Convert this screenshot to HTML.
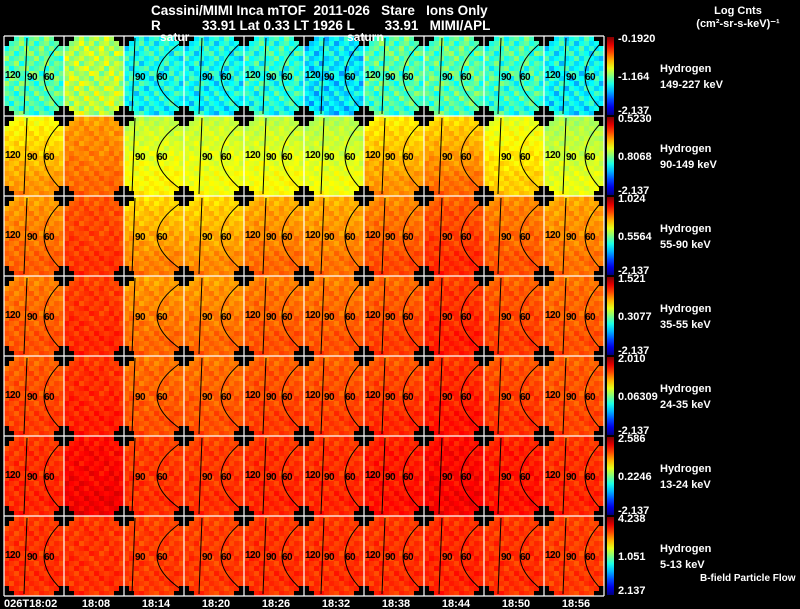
<!DOCTYPE html>
<html><head><meta charset="utf-8"><style>
html,body{margin:0;padding:0;background:#000;width:800px;height:609px;overflow:hidden}
svg{display:block}
text{font-family:"Liberation Sans",sans-serif;font-weight:bold}
.pre{white-space:pre}
</style></head><body>
<svg id="chart" width="800" height="609" viewBox="0 0 800 609" xmlns="http://www.w3.org/2000/svg">
<g id="panels"></g>
<g id="ticks" fill="#fff" font-size="11"></g>
<g fill="#fff" font-size="13.5">
<text class="pre" x="151" y="15">Cassini/MIMI Inca mTOF  2011-026   Stare   Ions Only</text>
<text class="pre" x="151" y="30">R           33.91 Lat 0.33 LT 1926 L        33.91   MIMI/APL</text>
<text x="738" y="14" text-anchor="middle" font-size="11">Log Cnts</text>
<text x="738" y="27" text-anchor="middle" font-size="11">(cm²-sr-s-keV)⁻¹</text>
<text x="160" y="41" font-size="12">satur</text>
<text x="347" y="41" font-size="12">saturn</text>
</g>
</svg>
<script>
// ---- data ----
const timeLabels = ["026T18:02","18:08","18:14","18:20","18:26","18:32","18:38","18:44","18:50","18:56"];
const energyLabels = ["149-227 keV","90-149 keV","55-90 keV","35-55 keV","24-35 keV","13-24 keV","5-13 keV"];
const cbTop = ["-0.1920","0.5230","1.024","1.521","2.010","2.586","4.238"];
const cbMid = ["-1.164","0.8068","0.5564","0.3077","0.06309","0.2246","1.051"];
const cbBot = ["-2.137","-2.137","-2.137","-2.137","-2.137","-2.137","2.137"];
// normalized colour level (0..1, jet) at top and bottom of each image, per panel per time column
const levelTop = [
 [0.47,0.54,0.40,0.39,0.42,0.36,0.46,0.46,0.44,0.39],
 [0.62,0.72,0.56,0.57,0.56,0.55,0.64,0.66,0.60,0.54],
 [0.72,0.79,0.66,0.66,0.70,0.70,0.74,0.78,0.74,0.71],
 [0.75,0.81,0.72,0.72,0.75,0.75,0.77,0.81,0.78,0.76],
 [0.78,0.82,0.76,0.76,0.78,0.78,0.79,0.82,0.79,0.78],
 [0.82,0.86,0.81,0.81,0.82,0.82,0.84,0.86,0.84,0.82],
 [0.82,0.82,0.81,0.81,0.82,0.82,0.82,0.83,0.82,0.81]
];
const levelBot = [
 [0.44,0.56,0.38,0.37,0.40,0.34,0.44,0.45,0.42,0.36],
 [0.74,0.78,0.64,0.62,0.63,0.62,0.74,0.78,0.68,0.61],
 [0.79,0.83,0.76,0.75,0.78,0.77,0.81,0.84,0.80,0.77],
 [0.80,0.84,0.78,0.78,0.80,0.80,0.82,0.85,0.82,0.80],
 [0.82,0.85,0.80,0.80,0.82,0.82,0.84,0.86,0.83,0.81],
 [0.84,0.89,0.83,0.83,0.84,0.84,0.86,0.88,0.86,0.84],
 [0.83,0.83,0.82,0.82,0.83,0.83,0.83,0.84,0.83,0.82]
];
// pitch-angle contour offsets per column (px within image)
const line90 = [22,-99,10,17,21,19,20,17,16,21];
const arc60 = [40,-99,33,37,38,41,39,37,36,41];
const show120 = [1,0,0,0,1,1,1,0,0,1];
const tex = [
 [0,2,-1,1,-2,0,1,-1,2,0,1,-1],[1,-1,0,2,-1,1,-2,0,1,-1,0,2],[-2,0,1,-1,2,-1,0,2,-1,1,-1,0],
 [0,1,-2,0,1,2,-1,1,0,-2,2,1],[2,-1,0,1,-1,0,2,-1,1,0,-1,-2],[-1,0,2,-2,0,1,-1,0,2,-1,1,0],
 [1,-2,0,1,2,-1,0,1,-2,1,0,-1],[0,1,-1,0,-1,2,1,-2,0,2,-1,1],[-1,2,1,-1,0,-2,1,0,1,-1,2,0],
 [2,0,-1,2,1,0,-2,1,-1,0,1,-2],[0,-1,2,0,-2,1,0,-1,2,1,-1,0],[1,0,-2,1,0,-1,2,0,-1,0,2,1],
 [-1,1,0,-1,2,0,-1,2,0,1,0,-1],[0,-2,1,0,-1,1,0,-1,1,2,-1,0],[2,1,0,-2,1,-1,1,0,-2,0,1,-1],
 [-1,0,1,2,0,-1,-2,1,0,-1,0,1]
];
// ---- layout ----
const X0=4, Y0=36, CW=60, PH=80, NC=12, NR=16, NCOL=10;
const xCol = c => X0 + c*CW;
const yPanel = p => Y0 + p*PH;
function jet(t){t=Math.max(0,Math.min(1,t));
 const f=v=>Math.round(255*Math.max(0,Math.min(1,v)));
 return `rgb(${f(1.5-Math.abs(4*t-3))},${f(1.5-Math.abs(4*t-2))},${f(1.5-Math.abs(4*t-1))})`;}
const NS="http://www.w3.org/2000/svg";
function mk(tag,attrs,parent){const e=document.createElementNS(NS,tag);for(const k in attrs)e.setAttribute(k,attrs[k]);parent.appendChild(e);return e;}
const panels=document.getElementById('panels');
const defs=mk('defs',{},panels);
const grad=mk('linearGradient',{id:'cb',x1:0,y1:0,x2:0,y2:1},defs);
for(let i=0;i<=10;i++)mk('stop',{offset:i/10,'stop-color':jet(1-i/10)},grad);
const cw=CW/NC, ch=PH/NR;
function lbl(g,x,y,s){const t=mk('text',{x:x,y:y,'font-size':10,fill:'#000','letter-spacing':'-0.5'},g);t.textContent=s;
 
 }
for(let p=0;p<7;p++){
 const g=mk('g',{},panels);
 
 
 for(let c=0;c<NCOL;c++){
  for(let r=0;r<NR;r++){
   for(let k=0;k<NC;k++){
    const edge=Math.min(r,NR-1-r);
    const blackW = edge===0?2:(edge===1?1:0);
    const cell=mk('rect',{x:xCol(c)+k*cw,y:yPanel(p)+r*ch,width:cw+0.4,height:ch+0.4},g);
    
    
    if(k<blackW||k>=NC-blackW){cell.setAttribute('fill','#000');continue;}
    const t=levelTop[p][c]+(levelBot[p][c]-levelTop[p][c])*r/(NR-1)+tex[r][k]*(p===0?0.04:0.015);
    cell.setAttribute('fill',jet(t));
   }
  }
  const x=xCol(c), y=yPanel(p);
  if(line90[c]>-50){
   const l=mk('path',{d:`M${x+line90[c]+1} ${y+2} L${x+line90[c]-2} ${y+PH-2}`,stroke:'#000','stroke-width':1,fill:'none'},g);
   
   
   const a=mk('path',{d:`M${x+58} ${y+6} Q${x+2*arc60[c]-58} ${y+PH/2} ${x+58} ${y+PH-6}`,stroke:'#000','stroke-width':1,fill:'none'},g);
   
   
   lbl(g,x+line90[c]+1,y+PH/2+4,'90');
   lbl(g,x+arc60[c],y+PH/2+4,'60');
   if(show120[c])lbl(g,x+1,y+PH/2+2,'120');
  }
 }
 const cb=mk('rect',{x:607,y:yPanel(p)+1,width:7,height:PH-2,fill:'url(#cb)'},g);
 
 
 const tv=[[cbTop[p],6],[cbMid[p],44],[cbBot[p],78]];
 tv.forEach(([s,dy])=>{const t=mk('text',{x:618,y:yPanel(p)+dy,'font-size':11,fill:'#fff'},g);t.textContent=s;
  
  });
 const h=mk('text',{x:660,y:yPanel(p)+36,'font-size':11,fill:'#fff'},g);h.textContent='Hydrogen';
 
 
 const e=mk('text',{x:660,y:yPanel(p)+52,'font-size':11,fill:'#fff'},g);e.textContent=energyLabels[p];
 
 
}
const grid=mk('g',{stroke:'#fff','stroke-width':1.2},panels);


for(let c=0;c<=NCOL;c++)mk('line',{x1:xCol(c),y1:Y0,x2:xCol(c),y2:Y0+7*PH},grid);
for(let p=0;p<=7;p++)mk('line',{x1:X0,y1:yPanel(p),x2:X0+NCOL*CW,y2:yPanel(p)},grid);
const bf=mk('text',{x:700,y:581,'font-size':10,fill:'#fff'},panels);bf.textContent='B-field Particle Flow';


const ticks=document.getElementById('ticks');
timeLabels.forEach((s,i)=>{const t=mk('text',{x:i===0?4:xCol(i)+32,y:607,'text-anchor':i===0?'start':'middle'},ticks);t.textContent=s;
 
 });
</script>
</body></html>
